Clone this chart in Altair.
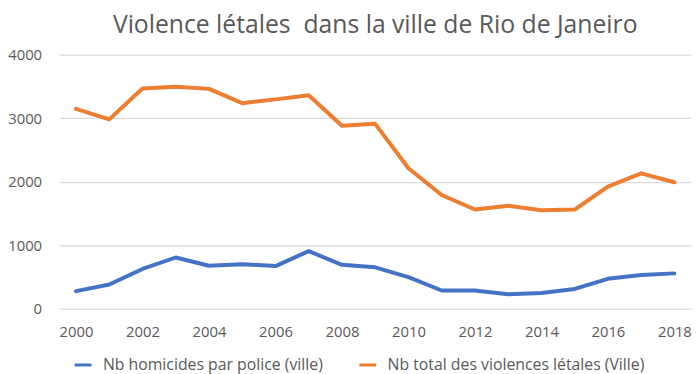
import altair as alt
import pandas as pd

years = list(range(2000, 2019))
police = [275, 380, 625, 805, 675, 700, 670, 905, 690, 650, 495, 285, 285, 225, 245, 310, 470, 530, 555]
total = [3145, 2980, 3465, 3495, 3460, 3235, 3295, 3360, 2880, 2910, 2210, 1790, 1560, 1620, 1550, 1560, 1920, 2130, 1990]
series = ["Nb homicides par police (ville)", "Nb total des violences létales (Ville)"]
colors = ["#4472C4", "#ED7D31"]

rows = []
for name, vals in zip(series, [police, total]):
    for y, v in zip(years, vals):
        rows.append({"Année": y, "Valeur": v, "Série": name})
df = pd.DataFrame(rows)

font = "Open Sans"
grey = "#595959"

chart = alt.Chart(df).mark_line(strokeWidth=4, strokeJoin="round", strokeCap="round").encode(
    x=alt.X("Année:Q",
            scale=alt.Scale(domain=[1999.5, 2018.5], nice=False, zero=False),
            axis=alt.Axis(values=list(range(2000, 2019, 2)), format="d", title=None,
                          grid=False, ticks=False, domain=False,
                          labelFont=font, labelFontSize=15, labelColor=grey, labelPadding=16)),
    y=alt.Y("Valeur:Q",
            scale=alt.Scale(domain=[0, 4000], nice=False),
            axis=alt.Axis(values=[0, 1000, 2000, 3000, 4000], title=None,
                          grid=True, gridColor="#D9D9D9", gridWidth=1.2,
                          ticks=False, domain=False, format="d",
                          labelFont=font, labelFontSize=15, labelColor=grey, labelPadding=18)),
    color=alt.Color("Série:N",
                    scale=alt.Scale(domain=series, range=colors),
                    legend=alt.Legend(title=None, orient="none", legendX=14, legendY=304,
                                      direction="horizontal", symbolType="stroke",
                                      symbolStrokeWidth=3, symbolSize=289,
                                      labelOffset=10,
                                      labelFont=font, labelFontSize=16, labelColor=grey,
                                      columnPadding=30, labelLimit=400)),
).properties(
    width=639,
    height=257,
    autosize=alt.AutoSizeParams(type="none"),
    padding={"left": 52, "top": 45, "right": 1, "bottom": 64},
    title=alt.TitleParams("Violence létales\u00a0 dans la ville de Rio de Janeiro",
                          font=font, fontSize=25, fontWeight="normal", color=grey,
                          anchor="middle", offset=10),
).configure_view(stroke=None)

chart.save("out.html", embed_options={"renderer": "svg", "actions": False})
